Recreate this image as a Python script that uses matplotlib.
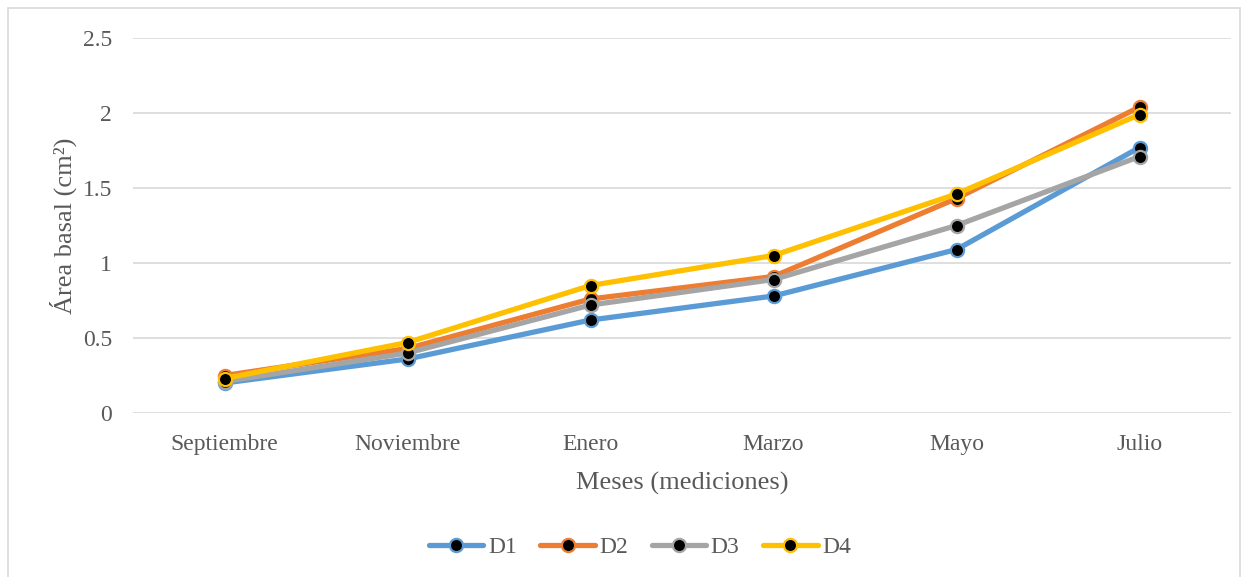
import matplotlib
matplotlib.use("Agg")
import matplotlib.pyplot as plt
from matplotlib.patches import Rectangle

meses = ["Septiembre", "Noviembre", "Enero", "Marzo", "Mayo", "Julio"]
d1 = [0.20, 0.36, 0.62, 0.78, 1.09, 1.77]
d2 = [0.25, 0.43, 0.76, 0.91, 1.43, 2.04]
d3 = [0.21, 0.40, 0.72, 0.89, 1.25, 1.71]
d4 = [0.23, 0.47, 0.85, 1.05, 1.46, 1.99]
series = [("D1", d1, "#5b9bd5"), ("D2", d2, "#ed7d31"),
          ("D3", d3, "#a5a5a5"), ("D4", d4, "#ffc000")]
yticks = [0, 0.5, 1, 1.5, 2, 2.5]
ytick_labels = ["0", "0.5", "1", "1.5", "2", "2.5"]

plt.rcParams["font.family"] = ["Liberation Serif", "DejaVu Serif"]
text_color = "#595959"

fig = plt.figure(figsize=(12.48, 5.77), dpi=100)
fig.patches.append(Rectangle((8 / 1248, -0.01), 1232 / 1248, 1 - 8 / 577 + 0.01,
                             transform=fig.transFigure, fill=False,
                             edgecolor="#d9d9d9", linewidth=1.2))

ax = fig.add_axes([133 / 1248, 1 - 413 / 577, 1098 / 1248, 375 / 577])
x = list(range(len(meses)))
for name, vals, color in series:
    ax.plot(x, vals, color=color, linewidth=3.8, marker="o", markersize=9.5,
            markerfacecolor="black", markeredgecolor=color, markeredgewidth=1.6,
            solid_capstyle="round", label=name, zorder=3)

ax.set_xlim(-0.5, len(meses) - 0.5)
ax.set_ylim(0, 2.5)
ax.set_yticks(yticks)
ax.set_yticklabels(ytick_labels)
ax.set_xticks(x)
ax.set_xticklabels(meses)
ax.grid(axis="y", color="#d9d9d9", linewidth=1.2, zorder=0)
ax.set_axisbelow(True)
for s in ax.spines.values():
    s.set_visible(False)
ax.tick_params(axis="both", length=0, labelsize=17, colors=text_color)
ax.tick_params(axis="x", pad=15)
ax.tick_params(axis="y", pad=15)

ax.set_xlabel("Meses (mediciones)", fontsize=19, color=text_color, labelpad=12)
ax.set_ylabel("Área basal (cm²)", fontsize=19, color=text_color, labelpad=4)

leg = fig.legend(loc="center", bbox_to_anchor=(640 / 1248, 1 - 547 / 577), ncol=4,
                 frameon=False, fontsize=17, handlelength=2.3, columnspacing=1.0,
                 handletextpad=0.2)
for t in leg.get_texts():
    t.set_color(text_color)

fig.savefig("out.png", dpi=100)
